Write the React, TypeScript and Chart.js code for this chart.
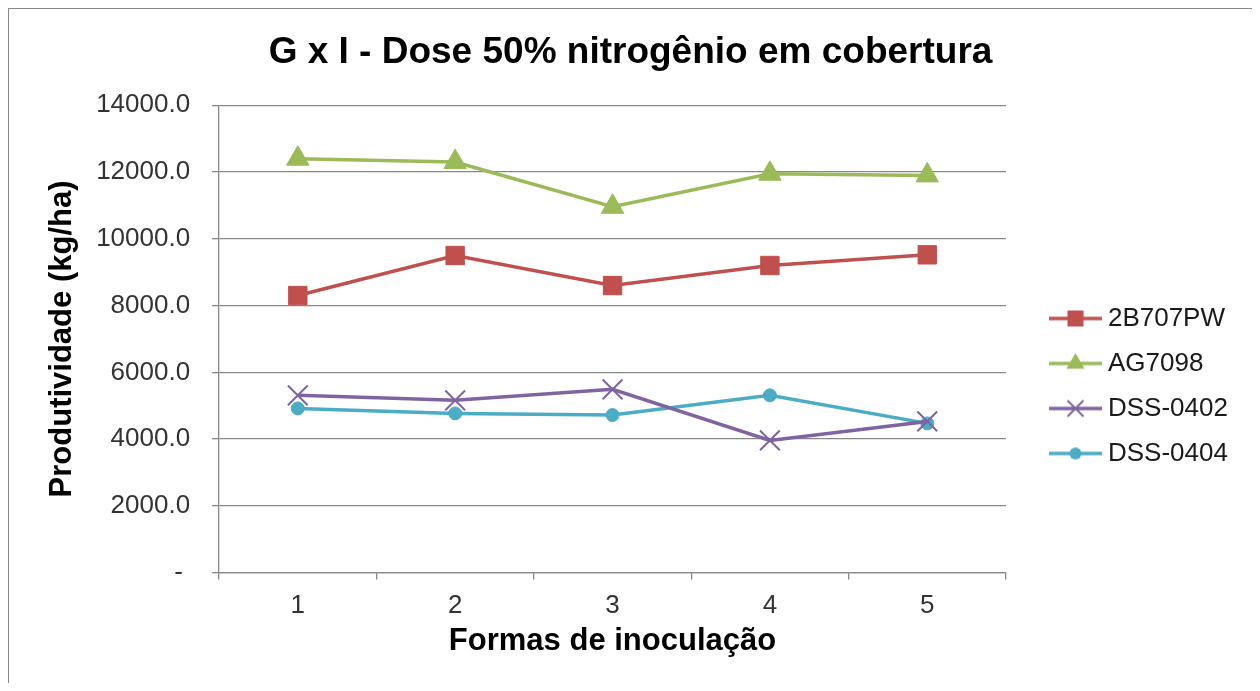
import React, { useEffect, useRef } from 'react';
import { Chart, registerables } from 'chart.js';

Chart.register(...registerables);

const chartTitle = 'G x I - Dose 50% nitrogênio em cobertura';
const xAxisTitle = 'Formas de inoculação';
const yAxisTitle = 'Produtividade (kg/ha)';

const categories = ['1', '2', '3', '4', '5'];
const seriesNames = ['2B707PW', 'AG7098', 'DSS-0402', 'DSS-0404'];
const values2B707PW = [8300, 9500, 8600, 9200, 9520];
const valuesAG7098 = [12400, 12300, 10960, 11950, 11900];
const valuesDSS0402 = [5310, 5160, 5490, 3960, 4530];
const valuesDSS0404 = [4920, 4770, 4720, 5310, 4470];

const yMin = 0;
const yMax = 14000;
const yStep = 2000;

const FONT = '"Liberation Sans", Arial, Helvetica, sans-serif';
const GRID = '#888888';

const seriesStyles = [
  { color: '#C0504D', marker: 'rect', radius: 13, border: 1 },
  { color: '#9BBB59', marker: 'triangle', radius: 13, border: 1 },
  { color: '#8064A2', marker: 'crossRot', radius: 14, border: 2 },
  { color: '#4BACC6', marker: 'circle', radius: 6.5, border: 1 },
];

function makeLegendIcon(color: string, marker: string): HTMLCanvasElement {
  const c = document.createElement('canvas');
  c.width = 84;
  c.height = 28;
  const ctx = c.getContext('2d') as CanvasRenderingContext2D;
  const cy = 14;
  const x0 = 31;
  const x1 = 84;
  const mx = 57.5;
  ctx.strokeStyle = color;
  ctx.fillStyle = color;
  ctx.lineWidth = 3.5;
  ctx.beginPath();
  ctx.moveTo(x0, cy);
  ctx.lineTo(x1, cy);
  ctx.stroke();
  if (marker === 'rect') {
    ctx.fillRect(mx - 8, cy - 8, 16, 16);
  } else if (marker === 'triangle') {
    const r = 10.5;
    ctx.beginPath();
    ctx.moveTo(mx, cy - r);
    ctx.lineTo(mx + r * 0.866, cy + r / 2);
    ctx.lineTo(mx - r * 0.866, cy + r / 2);
    ctx.closePath();
    ctx.fill();
  } else if (marker === 'crossRot') {
    const d = 8;
    ctx.lineWidth = 2;
    ctx.beginPath();
    ctx.moveTo(mx - d, cy - d);
    ctx.lineTo(mx + d, cy + d);
    ctx.moveTo(mx - d, cy + d);
    ctx.lineTo(mx + d, cy - d);
    ctx.stroke();
  } else {
    ctx.beginPath();
    ctx.arc(mx, cy, 6, 0, Math.PI * 2);
    ctx.fill();
  }
  return c;
}

const legendShift = {
  id: 'legendShift',
  afterLayout(chart: any, _args: any, opts: any) {
    const lg = chart.legend;
    if (lg && opts && opts.dy) {
      lg.top += opts.dy;
      lg.bottom += opts.dy;
    }
  },
};

export default function App() {
  const canvasRef = useRef<HTMLCanvasElement | null>(null);

  useEffect(() => {
    document.body.style.overflow = 'hidden';
    if (!canvasRef.current) return;
    const seriesValues = [values2B707PW, valuesAG7098, valuesDSS0402, valuesDSS0404];
    const icons = seriesStyles.map((s) => makeLegendIcon(s.color, s.marker));

    const datasets = seriesNames.map((name, i) => {
      const s = seriesStyles[i];
      return {
        label: name,
        data: seriesValues[i],
        borderColor: s.color,
        backgroundColor: s.color,
        borderWidth: 3.5,
        tension: 0,
        pointStyle: s.marker,
        pointRadius: s.radius,
        pointBackgroundColor: s.color,
        pointBorderColor: s.color,
        pointBorderWidth: s.border,
        fill: false,
      };
    });

    const chart = new Chart(canvasRef.current, {
      type: 'line',
      data: { labels: categories, datasets },
      plugins: [legendShift],
      options: {
        animation: false,
        responsive: true,
        maintainAspectRatio: false,
        events: [],
        layout: { padding: { top: 0, left: 14.1, right: 16.1, bottom: 0 } },
        plugins: {
          legendShift: { dy: 47 },
          title: {
            display: true,
            text: chartTitle,
            color: '#000',
            font: { family: FONT, size: 37, weight: 'bold' },
            padding: { top: 21.3, bottom: 30.6 },
          },
          legend: {
            display: true,
            position: 'right',
            fullSize: false,
            align: 'center',
            labels: {
              usePointStyle: true,
              pointStyleWidth: 70,
              padding: 19,
              color: '#1a1a1a',
              font: { family: FONT, size: 26 },
              generateLabels: (ch: any) => {
                const items = (Chart.defaults.plugins.legend.labels as any).generateLabels(ch);
                return items.map((it: any, i: number) => ({ ...it, pointStyle: icons[i] }));
              },
            },
          },
          tooltip: { enabled: false },
        } as any,
        scales: {
          x: {
            offset: true,
            ticks: {
              padding: 10.4,
              color: '#333',
              font: { family: FONT, size: 26 },
            },
            grid: {
              offset: true,
              drawOnChartArea: false,
              drawTicks: true,
              tickLength: 7,
              color: GRID,
              lineWidth: 1.3,
            },
            border: { color: GRID, width: 1.3 },
            title: {
              display: true,
              text: xAxisTitle,
              color: '#000',
              font: { family: FONT, size: 31, weight: 'bold' },
              padding: { top: -9.2, bottom: 31.4 },
            },
          },
          y: {
            min: yMin,
            max: yMax,
            ticks: {
              stepSize: yStep,
              padding: 22,
              color: '#333',
              font: { family: FONT, size: 26 },
              callback: (v: any) => (Number(v) === 0 ? '- ' : Number(v).toFixed(1)),
            },
            grid: {
              color: GRID,
              lineWidth: 1.3,
              drawTicks: true,
              tickLength: 7,
            },
            border: { color: GRID, width: 1.3 },
            title: {
              display: true,
              text: yAxisTitle,
              color: '#000',
              font: { family: FONT, size: 31, weight: 'bold' },
              padding: { top: 20.4, bottom: -6.56 },
            },
          },
        },
      } as any,
    });

    return () => {
      chart.destroy();
    };
  }, []);

  return (
    <div
      style={{
        marginLeft: -1,
        marginTop: -1,
        marginBottom: -8,
        width: 1249,
        height: 684,
        border: '2px solid #888',
        borderBottom: 'none',
        boxSizing: 'border-box',
        background: '#fff',
      }}
    >
      <div style={{ position: 'relative', width: 1245, height: 682 }}>
        <canvas ref={canvasRef} />
      </div>
    </div>
  );
}
